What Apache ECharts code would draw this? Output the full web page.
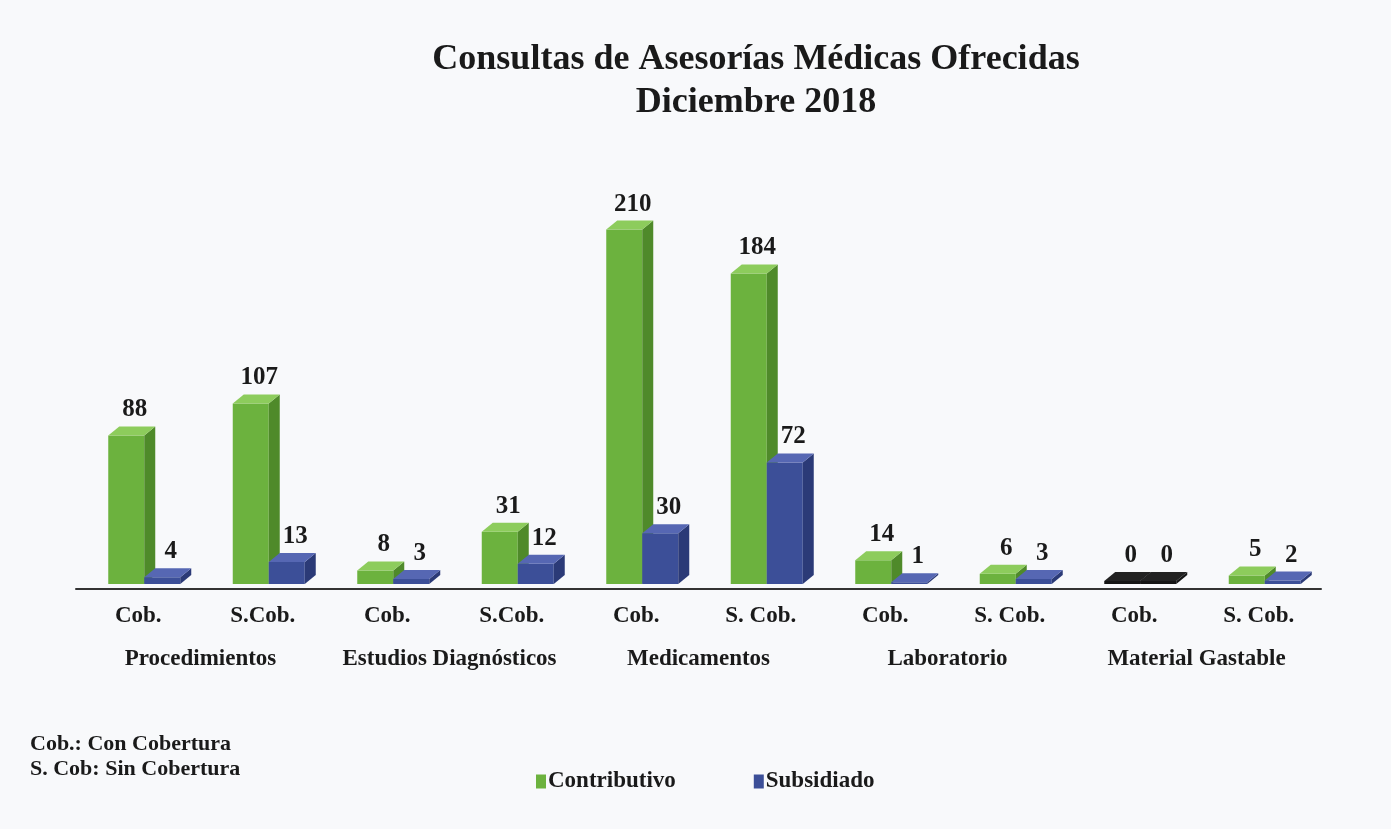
<!DOCTYPE html>
<html>
<head>
<meta charset="utf-8">
<script src="https://cdn.jsdelivr.net/npm/echarts@6/dist/echarts.min.js"></script>
<style>
  html, body { margin: 0; padding: 0; background: #f8f9fb; }
  #chart { width: 1391px; height: 829px; }
</style>
</head>
<body>
<div id="chart"></div>
<script>
// datos
var categorias = ['Cob.', 'S.Cob.', 'Cob.', 'S.Cob.', 'Cob.', 'S. Cob.', 'Cob.', 'S. Cob.', 'Cob.', 'S. Cob.'];
var grupos = ['Procedimientos', 'Estudios Diagnósticos', 'Medicamentos', 'Laboratorio', 'Material Gastable'];
var contributivo = [88, 107, 8, 31, 210, 184, 14, 6, 0, 5];
var subsidiado = [4, 13, 3, 12, 30, 72, 1, 3, 0, 2];

var FONT = '"Liberation Serif", "Times New Roman", serif';
var W = 36, D = 11, DY = 9;

var verde = { front: '#6cb23e', side: '#4f8a2a', top: '#8dcc5c' };
var azul = { front: '#3c4f98', side: '#2b3a77', top: '#5667b3' };

function barra(off, pal) {
  return function (params, api) {
    var idx = api.value(0), v = api.value(1);
    var base = api.coord([idx, 0]);
    var top = api.coord([idx, v]);
    var l = base[0] + off, r = l + W;
    var by = base[1];
    var ty = top[1];
    var c = pal;
    if (v === 0) {
      ty = by - 3;
      c = { front: '#151515', side: '#151515', top: '#222' };
    }
    return {
      type: 'group',
      children: [
        { type: 'polygon', shape: { points: [[l, by], [r, by], [r, ty], [l, ty]] }, style: { fill: c.front } },
        { type: 'polygon', shape: { points: [[r, by], [r + D, by - DY], [r + D, ty - DY], [r, ty]] }, style: { fill: c.side } },
        { type: 'polygon', shape: { points: [[l, ty], [r, ty], [r + D, ty - DY], [l + D, ty - DY]] }, style: { fill: c.top } },
        {
          type: 'text', x: (l + r + D) / 2 + 3, y: ty - DY - 4,
          style: {
            text: String(v), fill: '#1a1a1a', font: 'bold 25px ' + FONT,
            align: 'center', verticalAlign: 'bottom',
            textAlign: 'center', textVerticalAlign: 'bottom'
          }
        }
      ]
    };
  };
}

var chart = echarts.init(document.getElementById('chart'));
var option = {
  backgroundColor: '#f8f9fb',
  animation: false,
  title: {
    text: 'Consultas de Asesorías Médicas Ofrecidas\nDiciembre 2018',
    left: 751,
    top: 33,
    textAlign: 'center',
    textStyle: { fontFamily: FONT, fontWeight: 'bold', fontSize: 36, color: '#1a1a1a', lineHeight: 43 }
  },
  legend: {
    left: 531,
    top: 765,
    itemGap: 78,
    icon: 'rect',
    itemWidth: 10,
    itemHeight: 14,
    textStyle: { fontFamily: FONT, fontWeight: 'bold', fontSize: 23, color: '#1a1a1a', padding: [0, 0, 0, -3] },
    data: ['Contributivo', 'Subsidiado']
  },
  grid: { left: 76, right: 70, top: 179, bottom: 240 },
  xAxis: [
    {
      type: 'category',
      data: categorias,
      axisLine: { show: true, onZero: false, lineStyle: { color: '#333', width: 2 } },
      axisTick: { show: false },
      axisLabel: { interval: 0, margin: 16, fontFamily: FONT, fontWeight: 'bold', fontSize: 23, color: '#1a1a1a' }
    },
    {
      type: 'category',
      position: 'bottom',
      data: grupos,
      axisLine: { show: false },
      axisTick: { show: false },
      axisLabel: { interval: 0, hideOverlap: false, margin: 59, fontFamily: FONT, fontWeight: 'bold', fontSize: 23, color: '#1a1a1a' }
    }
  ],
  yAxis: {
    type: 'value',
    min: -3,
    max: 240,
    show: false,
    splitLine: { show: false }
  },
  graphic: [
    { type: 'text', left: 30, top: 733, style: { text: 'Cob.: Con Cobertura', font: 'bold 22px ' + FONT, fill: '#1a1a1a' } },
    { type: 'text', left: 30, top: 758, style: { text: 'S. Cob: Sin Cobertura', font: 'bold 22px ' + FONT, fill: '#1a1a1a' } }
  ],
  series: [
    {
      name: 'Contributivo',
      type: 'custom',
      itemStyle: { color: verde.front },
      renderItem: barra(-30, verde),
      data: contributivo.map(function (v, i) { return [i, v]; })
    },
    {
      name: 'Subsidiado',
      type: 'custom',
      itemStyle: { color: azul.front },
      renderItem: barra(6, azul),
      data: subsidiado.map(function (v, i) { return [i, v]; })
    }
  ]
};
chart.setOption(option);
</script>
</body>
</html>
